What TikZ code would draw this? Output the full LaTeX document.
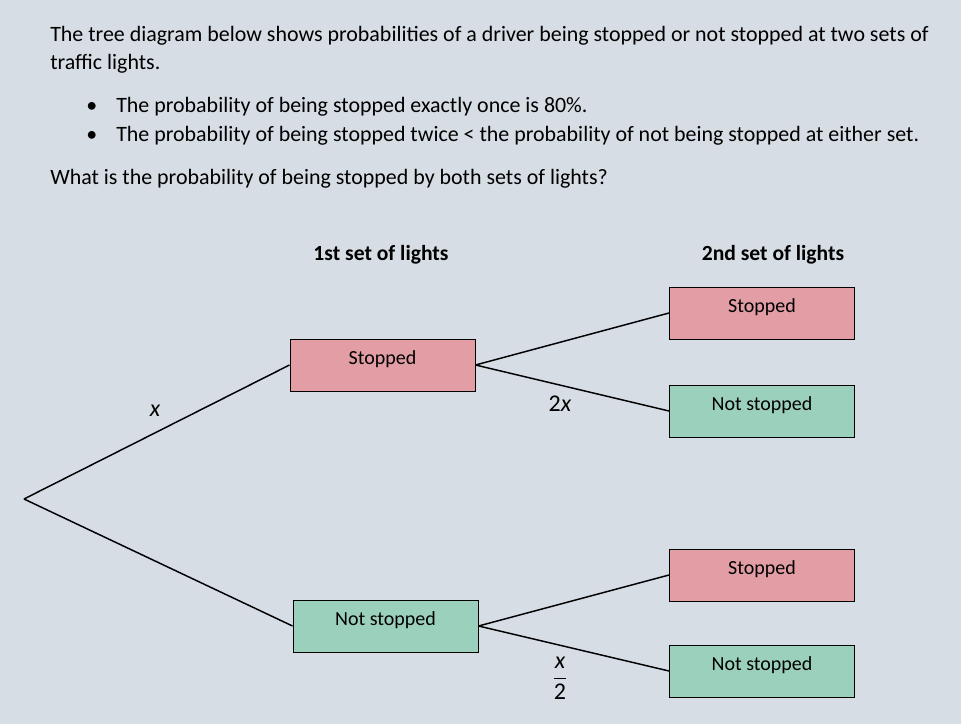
\documentclass[tikz,border=0pt]{standalone}
\usepackage{fontspec}
\setmainfont{Carlito}
\definecolor{bg}{RGB}{214,221,228}
\definecolor{pinkbox}{RGB}{226,158,164}
\definecolor{greenbox}{RGB}{155,208,189}
\begin{document}
\begin{tikzpicture}[x=0.75pt,y=-0.75pt,
  txt/.style={anchor=base west,inner sep=0pt,font=\fontsize{16.45}{18}\selectfont},
  hdr/.style={inner sep=0pt,font=\fontsize{16.2}{18}\selectfont\bfseries},
  box/.style={draw=black,line width=0.75pt,minimum width=138.75pt,minimum height=39pt,inner sep=0pt},
  sbox/.style={box,fill=pinkbox},
  nbox/.style={box,fill=greenbox},
  boxlab/.style={label={[anchor=base,yshift=-19.2pt,inner sep=0pt,font=\fontsize{15}{17}\selectfont]north:#1}},
  edge/.style={line width=1.1pt},
  prob/.style={inner sep=0pt,font=\fontsize{18}{20}\selectfont}]
\fill[bg] (0,0) rectangle (961,724);
\useasboundingbox (0,0) rectangle (961,724);
\node[txt] (t1) at (50,42) {The tree diagram below shows probabilities of a driver being stopped or not stopped at two sets of};
\node[txt] (t2) at (50,70) {traffic lights.};
\node[txt] (b1) at (86,113) {\textbullet};
\node[txt] (l1) at (116,113) {The probability of being stopped exactly once is 80\%.};
\node[txt] (b2) at (86,142) {\textbullet};
\node[txt] (l2) at (116,142) {The probability of being stopped twice < the probability of not being stopped at either set.};
\node[txt] (q) at (50,184) {What is the probability of being stopped by both sets of lights?};
\node[hdr] (h1) at (381,255) {1st set of lights};
\node[hdr] (h2) at (773,255) {2nd set of lights};
\coordinate (root) at (24,499);
\node[sbox,boxlab=Stopped] (s1) at (382.5,365) {};
\node[nbox,boxlab=Not stopped] (n1) at (385.5,626) {};
\node[sbox,boxlab=Stopped] (ss) at (762,313) {};
\node[nbox,boxlab=Not stopped] (sn) at (762,411) {};
\node[sbox,boxlab=Stopped] (ns) at (762,575) {};
\node[nbox,boxlab=Not stopped] (nn) at (762,671) {};
\draw[edge] (root) -- (s1.west);
\draw[edge] (root) -- (n1.west);
\draw[edge] (s1.east) -- (ss.west);
\draw[edge] (s1.east) -- (sn.west);
\draw[edge] (n1.east) -- (ns.west);
\draw[edge] (n1.east) -- (nn.west);
\node[prob] (px) at (155,411) {\itshape x};
\node[prob] (p2x) at (560,404) {2\itshape x};
\node[prob] (pxh) at (560,678) {$\displaystyle\frac{\mbox{\itshape x}}{\mbox{2}}$};
\end{tikzpicture}
\end{document}
